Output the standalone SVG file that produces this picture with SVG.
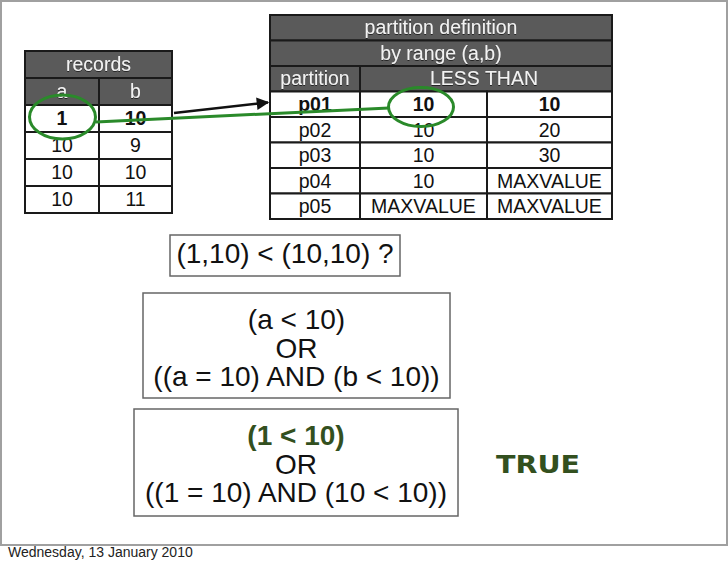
<svg xmlns="http://www.w3.org/2000/svg" width="728" height="567" viewBox="0 0 728 567">
<defs>
<style>
.t{font-family:"Liberation Sans",Arial,sans-serif;}
.hd{fill:#5a5a5a;stroke:#1a1a1a;stroke-width:2;}
.cell{fill:#fff;stroke:#1a1a1a;stroke-width:2;}
.ht{font-size:19.5px;fill:#f2f2f2;text-anchor:middle;}
.dt{font-size:19.5px;fill:#111;text-anchor:middle;}
.b{font-weight:bold;}
.box{fill:#fff;stroke:#666;stroke-width:1.5;}
.bt{font-size:28px;fill:#111;text-anchor:middle;}
.ring{fill:none;stroke:#2a8a2a;stroke-width:3;}
</style>
<filter id="sh" x="-10%" y="-20%" width="120%" height="140%">
<feDropShadow dx="0" dy="1" stdDeviation="0.6" flood-color="#000" flood-opacity="0.6"/>
</filter>
<marker id="ah" viewBox="0 0 10 10" refX="9" refY="5" markerWidth="5.5" markerHeight="5" orient="auto" markerUnits="strokeWidth">
<path d="M0,0 L10,5 L0,10 Z" fill="#111"/>
</marker>
</defs>
<rect width="728" height="567" fill="#fff"/>
<g id="frame">
<path d="M1,545 L1,1 L727,1 L727,545 Z" fill="none" stroke="#a0a0a0" stroke-width="2"/>
</g>
<g id="records-table" class="t">
<rect class="hd" x="25" y="51" width="147" height="27"/>
<rect class="hd" x="25" y="78" width="74" height="27"/>
<rect class="hd" x="99" y="78" width="73" height="27"/>
<text class="ht" x="98.5" y="71.2" filter="url(#sh)">records</text>
<text class="ht" x="62" y="98.2" filter="url(#sh)">a</text>
<text class="ht" x="135.5" y="98.2" filter="url(#sh)">b</text>
<rect class="cell" x="25" y="105" width="74" height="27"/>
<rect class="cell" x="99" y="105" width="73" height="27"/>
<rect class="cell" x="25" y="132" width="74" height="27"/>
<rect class="cell" x="99" y="132" width="73" height="27"/>
<rect class="cell" x="25" y="159" width="74" height="27"/>
<rect class="cell" x="99" y="159" width="73" height="27"/>
<rect class="cell" x="25" y="186" width="74" height="27"/>
<rect class="cell" x="99" y="186" width="73" height="27"/>
<text class="dt b" x="62" y="125.2">1</text>
<text class="dt b" x="135.5" y="125.2">10</text>
<text class="dt" x="62" y="152.2">10</text>
<text class="dt" x="135.5" y="152.2">9</text>
<text class="dt" x="62" y="179.2">10</text>
<text class="dt" x="135.5" y="179.2">10</text>
<text class="dt" x="62" y="206.2">10</text>
<text class="dt" x="135.5" y="206.2">11</text>
</g>
<g id="partition-table" class="t">
<rect class="hd" x="270" y="15" width="342" height="25.5"/>
<rect class="hd" x="270" y="40.5" width="342" height="25.5"/>
<rect class="hd" x="270" y="66" width="90" height="25.5"/>
<rect class="hd" x="360" y="66" width="252" height="25.5"/>
<text class="ht" x="441" y="34.4" filter="url(#sh)">partition definition</text>
<text class="ht" x="441" y="60" filter="url(#sh)">by range (a,b)</text>
<text class="ht" x="315" y="85.4" filter="url(#sh)">partition</text>
<text class="ht" x="484" y="85.4" filter="url(#sh)">LESS THAN</text>
<g>
<rect class="cell" x="270" y="91.5" width="90" height="25.5"/>
<rect class="cell" x="360" y="91.5" width="127" height="25.5"/>
<rect class="cell" x="487" y="91.5" width="125" height="25.5"/>
<rect class="cell" x="270" y="117" width="90" height="25.5"/>
<rect class="cell" x="360" y="117" width="127" height="25.5"/>
<rect class="cell" x="487" y="117" width="125" height="25.5"/>
<rect class="cell" x="270" y="142.5" width="90" height="25.5"/>
<rect class="cell" x="360" y="142.5" width="127" height="25.5"/>
<rect class="cell" x="487" y="142.5" width="125" height="25.5"/>
<rect class="cell" x="270" y="168" width="90" height="25.5"/>
<rect class="cell" x="360" y="168" width="127" height="25.5"/>
<rect class="cell" x="487" y="168" width="125" height="25.5"/>
<rect class="cell" x="270" y="193.5" width="90" height="25.5"/>
<rect class="cell" x="360" y="193.5" width="127" height="25.5"/>
<rect class="cell" x="487" y="193.5" width="125" height="25.5"/>
</g>
<text class="dt b" x="315" y="111">p01</text>
<text class="dt b" x="423.5" y="111">10</text>
<text class="dt b" x="549.5" y="111">10</text>
<text class="dt" x="315" y="136.5">p02</text>
<text class="dt" x="423.5" y="136.5">10</text>
<text class="dt" x="549.5" y="136.5">20</text>
<text class="dt" x="315" y="162">p03</text>
<text class="dt" x="423.5" y="162">10</text>
<text class="dt" x="549.5" y="162">30</text>
<text class="dt" x="315" y="187.5">p04</text>
<text class="dt" x="423.5" y="187.5">10</text>
<text class="dt" x="549.5" y="187.5">MAXVALUE</text>
<text class="dt" x="315" y="213">p05</text>
<text class="dt" x="423.5" y="213">MAXVALUE</text>
<text class="dt" x="549.5" y="213">MAXVALUE</text>
</g>
<g id="connectors">
<line x1="174" y1="113" x2="268" y2="102.5" stroke="#111" stroke-width="2.5" marker-end="url(#ah)"/>
<line x1="96" y1="122" x2="389" y2="108" stroke="#2a8a2a" stroke-width="3"/>
</g>
<g id="highlight-a">
<ellipse class="ring" cx="62.5" cy="117" rx="33" ry="22"/>
</g>
<g id="highlight-p01">
<ellipse class="ring" cx="421" cy="107" rx="32.5" ry="19.5"/>
</g>
<g id="box-question" class="t">
<rect class="box" x="170" y="235" width="230" height="41"/>
<text class="bt" x="285" y="263">(1,10) &lt; (10,10) ?</text>
</g>
<g id="box-general" class="t">
<rect class="box" x="143" y="293" width="307" height="105"/>
<text class="bt" x="296.5" y="329">(a &lt; 10)</text>
<text class="bt" x="296.5" y="358">OR</text>
<text class="bt" x="296.5" y="386">((a = 10) AND (b &lt; 10))</text>
</g>
<g id="box-applied" class="t">
<rect class="box" x="134" y="409" width="324" height="107"/>
<text class="bt b" x="296" y="445" style="fill:#33501f">(1 &lt; 10)</text>
<text class="bt" x="296" y="474">OR</text>
<text class="bt" x="296" y="502">((1 = 10) AND (10 &lt; 10))</text>
</g>
<g id="result">
<text x="496" y="473" font-family="'DejaVu Sans',sans-serif" font-weight="bold" font-size="24" fill="#33501f" textLength="84" lengthAdjust="spacingAndGlyphs">TRUE</text>
</g>
<g id="footer">
<text x="8" y="557" font-family="'Liberation Sans',Arial,sans-serif" font-size="14" fill="#222">Wednesday, 13 January 2010</text>
</g>
</svg>
